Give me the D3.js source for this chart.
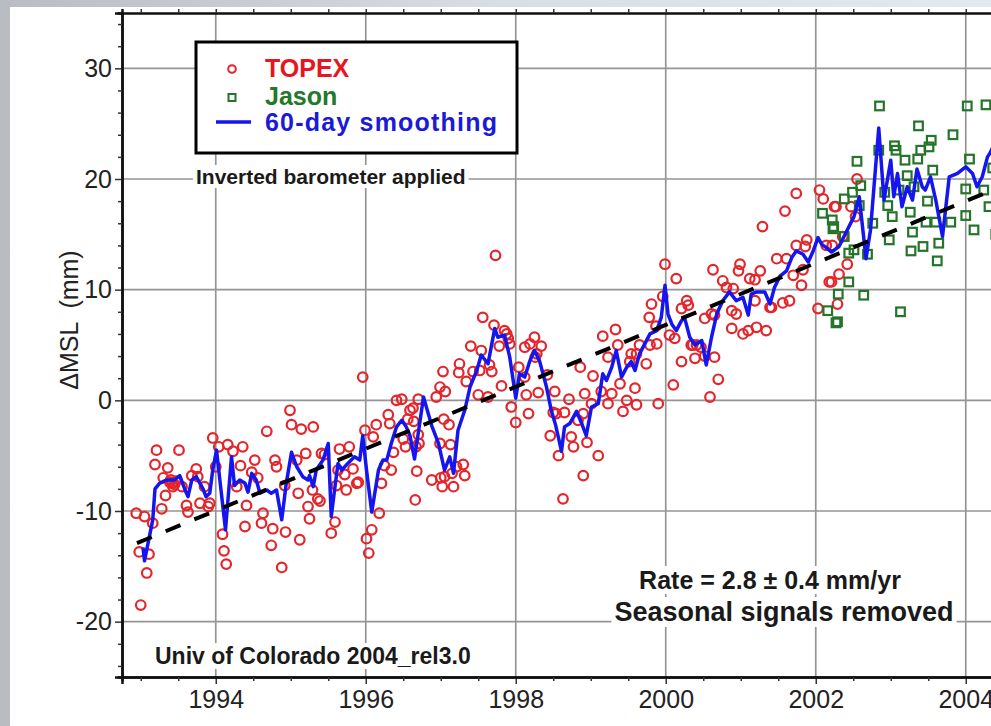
<!DOCTYPE html>
<html><head><meta charset="utf-8">
<script src="https://cdn.jsdelivr.net/npm/d3@7"></script>
<style>
html,body{margin:0;padding:0;overflow:hidden;background:#d4d7dc;}
svg{display:block;}
</style></head>
<body>
<svg id="chart" width="991" height="726"></svg>
<script>
// ---- data ----
const topexYears = [1992.94,1992.98,1993.00,1993.05,1993.08,1993.11,1993.16,1993.19,1993.21,1993.28,1993.30,1993.33,1993.36,1993.39,1993.40,1993.42,1993.43,1993.45,1993.47,1993.51,1993.55,1993.61,1993.63,1993.68,1993.74,1993.76,1993.79,1993.85,1993.90,1993.92,1993.96,1994.00,1994.04,1994.09,1994.11,1994.14,1994.16,1994.23,1994.28,1994.33,1994.36,1994.39,1994.41,1994.48,1994.52,1994.56,1994.61,1994.63,1994.68,1994.74,1994.76,1994.79,1994.81,1994.88,1994.92,1994.93,1994.99,1995.01,1995.08,1995.10,1995.12,1995.14,1995.20,1995.23,1995.25,1995.29,1995.30,1995.36,1995.39,1995.41,1995.45,1995.54,1995.59,1995.61,1995.63,1995.65,1995.72,1995.74,1995.78,1995.83,1995.88,1995.90,1995.96,1995.99,1996.01,1996.04,1996.08,1996.10,1996.14,1996.18,1996.21,1996.25,1996.30,1996.32,1996.34,1996.37,1996.41,1996.48,1996.50,1996.53,1996.56,1996.59,1996.63,1996.64,1996.66,1996.67,1996.68,1996.70,1996.70,1996.71,1996.88,1996.94,1996.99,1996.99,1997.00,1997.02,1997.03,1997.04,1997.05,1997.06,1997.11,1997.13,1997.15,1997.17,1997.21,1997.24,1997.25,1997.30,1997.32,1997.34,1997.40,1997.43,1997.50,1997.52,1997.54,1997.56,1997.63,1997.65,1997.68,1997.71,1997.73,1997.78,1997.81,1997.85,1997.88,1997.90,1997.92,1997.94,1998.00,1998.04,1998.12,1998.12,1998.14,1998.17,1998.19,1998.25,1998.26,1998.28,1998.30,1998.34,1998.42,1998.46,1998.50,1998.52,1998.54,1998.57,1998.63,1998.65,1998.71,1998.74,1998.77,1998.83,1998.86,1998.90,1998.90,1998.92,1998.95,1999.01,1999.03,1999.10,1999.14,1999.16,1999.23,1999.23,1999.28,1999.33,1999.36,1999.39,1999.43,1999.48,1999.52,1999.54,1999.59,1999.61,1999.61,1999.65,1999.74,1999.78,1999.79,1999.81,1999.87,1999.88,1999.90,1999.96,1999.99,2000.05,2000.10,2000.12,2000.14,2000.21,2000.21,2000.28,2000.30,2000.34,2000.36,2000.39,2000.41,2000.47,2000.52,2000.52,2000.59,2000.61,2000.63,2000.65,2000.65,2000.70,2000.76,2000.81,2000.88,2000.88,2000.90,2000.94,2000.97,2000.99,2001.03,2001.10,2001.12,2001.19,2001.19,2001.21,2001.26,2001.29,2001.34,2001.39,2001.41,2001.48,2001.56,2001.59,2001.61,2001.65,2001.70,2001.74,2001.74,2001.81,2001.83,2001.86,2001.88,2002.03,2002.05,2002.10,2002.14,2002.18,2002.21,2002.22,2002.25,2002.27,2002.29,2002.31,2002.36,2002.42,2002.47,2002.53,2002.55];
const topexValues = [-10.2,-13.7,-18.5,-10.5,-15.6,-13.9,-11.1,-5.8,-4.5,-9.8,-7.0,-8.6,-6.1,-7.4,-7.2,-7.5,-7.8,-7.6,-7.3,-4.5,-7.8,-9.5,-10.1,-6.8,-6.2,-6.9,-9.3,-7.8,-9.6,-9.3,-3.4,-6.0,-4.2,-12.1,-13.6,-14.8,-4.0,-4.6,-7.8,-5.9,-4.2,-11.4,-9.5,-6.5,-5.4,-7.0,-11.1,-10.2,-2.8,-13.1,-11.6,-5.4,-6.0,-15.1,-7.7,-11.9,-0.9,-2.2,-5.4,-8.4,-12.6,-2.6,-4.8,-9.6,-10.7,-8.1,-2.4,-8.9,-9.1,-4.8,-4.9,-12.0,-11.0,-7.7,-6.3,-4.4,-6.7,-8.1,-4.2,-6.2,-7.5,-7.4,2.1,-2.7,-12.5,-13.8,-11.7,-3.3,-2.2,-10.2,-7.5,-5.9,-1.3,-2.1,-6.3,-4.7,0.0,0.1,-3.5,-4.2,-1.7,-0.9,-0.7,-1.9,-9.0,-4.2,-6.4,-3.1,0.1,-3.9,-7.2,0.3,1.2,-3.9,-7.0,-7.8,2.6,-1.7,-6.9,0.8,-2.2,-4.0,-6.6,-7.8,-6.0,2.5,3.3,-5.8,-6.8,1.7,4.9,2.6,0.5,2.7,4.5,7.5,0.3,3.2,2.6,6.8,13.1,4.9,1.3,6.3,6.0,5.6,5.1,-0.6,-2.0,3.0,4.8,2.1,0.5,-1.2,5.1,5.7,3.9,4.2,0.7,4.9,2.3,-3.2,-1.1,0.8,-1.2,-5.0,-8.9,-1.1,0.1,-3.3,-4.2,-1.8,3.0,-6.8,-1.2,0.6,-3.8,-0.3,2.2,-5.0,0.8,5.8,3.9,-0.3,0.6,6.4,5.0,1.5,-1.0,0.0,3.5,4.2,1.1,4.2,-0.4,5.0,3.3,7.5,5.0,8.7,6.7,5.1,-0.3,9.4,12.3,5.9,1.4,5.6,11.0,8.3,3.5,9.0,8.6,5.0,5.0,3.8,5.0,4.8,7.4,4.0,0.3,7.8,11.8,7.7,3.9,1.9,10.8,10.2,8.1,6.5,10.1,7.8,11.7,12.3,6.0,6.3,11.0,10.9,9.0,6.6,11.7,15.7,6.3,8.4,8.4,12.8,8.8,17.1,12.8,9.0,11.3,18.7,14.0,10.4,11.8,13.9,14.5,8.3,19.0,18.2,14.0,10.7,10.7,14.0,17.5,17.5,8.7,11.4,14.8,12.3,17.5,16.6,20.0];

const jasonYears = [2002.09,2002.16,2002.22,2002.23,2002.24,2002.27,2002.29,2002.30,2002.38,2002.38,2002.44,2002.44,2002.49,2002.51,2002.55,2002.58,2002.60,2002.64,2002.69,2002.76,2002.84,2002.85,2002.92,2002.96,2002.98,2003.02,2003.05,2003.07,2003.11,2003.13,2003.19,2003.22,2003.26,2003.27,2003.29,2003.31,2003.36,2003.37,2003.40,2003.43,2003.47,2003.49,2003.51,2003.54,2003.56,2003.60,2003.62,2003.64,2003.80,2003.83,2004.00,2004.00,2004.02,2004.05,2004.11,2004.24,2004.27,2004.31,2004.36,2004.40];
const jasonValues = [16.9,8.1,16.3,15.5,15.7,7.0,7.1,9.6,14.8,18.2,13.3,10.7,18.8,13.6,21.6,17.6,19.4,9.5,13.2,16.0,22.6,26.6,18.8,17.6,14.5,16.6,23.0,22.6,19.0,8.0,21.7,20.3,17.0,13.5,15.2,19.3,21.8,24.8,22.6,13.9,16.1,18.0,22.9,23.5,20.8,16.1,12.6,14.2,16.1,24.0,19.1,16.7,26.6,21.8,15.4,19.0,26.7,17.5,21.0,15.0];

const smoothYears = [1993.03,1993.05,1993.16,1993.19,1993.25,1993.34,1993.45,1993.52,1993.59,1993.63,1993.68,1993.74,1993.83,1993.87,1993.92,1993.96,1994.01,1994.13,1994.21,1994.25,1994.32,1994.39,1994.43,1994.48,1994.54,1994.59,1994.68,1994.74,1994.81,1994.88,1994.94,1995.01,1995.08,1995.16,1995.23,1995.25,1995.30,1995.34,1995.43,1995.50,1995.54,1995.59,1995.63,1995.68,1995.76,1995.85,1995.92,1995.96,1996.01,1996.08,1996.17,1996.23,1996.28,1996.34,1996.41,1996.48,1996.54,1996.59,1996.65,1996.77,1996.88,1996.97,1997.05,1997.12,1997.17,1997.23,1997.32,1997.39,1997.48,1997.54,1997.63,1997.72,1997.76,1997.85,1997.92,1998.00,1998.05,1998.12,1998.19,1998.25,1998.32,1998.41,1998.47,1998.53,1998.61,1998.65,1998.72,1998.81,1998.88,1998.94,1999.01,1999.10,1999.16,1999.21,1999.28,1999.34,1999.41,1999.48,1999.54,1999.59,1999.65,1999.72,1999.79,1999.88,1999.94,1999.99,2000.03,2000.08,2000.14,2000.21,2000.25,2000.32,2000.39,2000.48,2000.54,2000.61,2000.68,2000.76,2000.85,2000.94,2001.03,2001.10,2001.14,2001.21,2001.32,2001.39,2001.45,2001.52,2001.61,2001.68,2001.74,2001.83,2001.90,2001.96,2002.03,2002.08,2002.14,2002.21,2002.31,2002.42,2002.51,2002.58,2002.67,2002.73,2002.84,2002.91,2003.00,2003.04,2003.09,2003.15,2003.22,2003.29,2003.35,2003.42,2003.46,2003.53,2003.60,2003.69,2003.78,2003.89,2004.00,2004.09,2004.15,2004.22,2004.29,2004.32,2004.37];
const smoothValues = [-13.3,-14.5,-10.8,-8.0,-7.5,-7.2,-7.2,-6.8,-8.1,-8.7,-7.2,-6.9,-8.0,-8.7,-8.4,-6.3,-4.5,-11.7,-5.1,-7.7,-7.2,-7.5,-8.3,-6.6,-7.2,-8.4,-8.1,-8.4,-8.1,-10.8,-7.5,-4.7,-6.0,-6.9,-7.2,-6.8,-7.8,-6.3,-5.4,-3.9,-10.5,-7.8,-5.7,-6.3,-5.7,-5.1,-5.4,-3.2,-6.3,-10.1,-6.3,-5.4,-5.4,-3.9,-2.4,-1.8,-2.4,-3.2,-5.3,0.3,-2.3,-3.9,-6.3,-5.1,-6.6,-2.7,-0.9,1.2,2.7,4.1,3.3,6.5,5.7,5.9,3.9,0.2,2.4,2.1,3.6,4.5,3.5,1.2,-0.8,-2.2,-4.6,-2.4,-2.1,-1.0,-2.1,-3.2,-0.6,-0.3,2.4,1.8,3.0,4.5,2.1,3.0,3.5,2.7,4.2,5.1,6.0,6.3,7.5,10.4,7.8,6.9,6.3,7.2,7.5,5.7,5.0,5.4,3.2,5.7,7.8,9.0,9.8,9.0,9.3,7.7,9.6,9.8,9.8,8.7,10.2,11.2,11.7,12.9,13.5,13.2,12.5,13.4,14.7,14.1,13.8,13.4,13.9,15.4,16.6,18.4,12.8,15.4,24.6,18.1,21.7,18.4,20.5,17.5,19.3,18.1,20.9,19.3,19.0,20.2,18.1,14.8,20.2,20.5,21.1,20.5,19.3,20.2,22.0,22.3,23.0];

const trendYears = [1992.95, 2004.75];
const trendValues = [-12.9, 20.1];

const xTickYears = [1994, 1996, 1998, 2000, 2002, 2004];
const yTickValues = [-20, -10, 0, 10, 20, 30];
const yTickLabels = ["-20", "-10", "0", "10", "20", "30"];

// ---- drawing ----
const svg = d3.select("#chart");
const W = 991, H = 726;
const plotLeft = 122, plotTop = 13, plotBottom = 677;

const x = d3.scaleLinear().domain([1992.75, 2004.75]).range([plotLeft, plotLeft + 12 * 75]);
const y = d3.scaleLinear().domain([-25, 35]).range([plotBottom, plotTop]);
const plotRight = x.range()[1];

// background (blurred photo look)
const defs = svg.append("defs");
const lg = defs.append("linearGradient").attr("id","bg").attr("x1","0").attr("y1","0").attr("x2","1").attr("y2","0");
lg.append("stop").attr("offset","0").attr("stop-color","#b9bcc0");
lg.append("stop").attr("offset","0.5").attr("stop-color","#d9dde4");
lg.append("stop").attr("offset","1").attr("stop-color","#e4e8ef");
svg.append("rect").attr("width",W).attr("height",H).attr("fill","url(#bg)");
svg.append("rect").attr("x",10).attr("y",7).attr("width",W + 20).attr("height",H).attr("fill","#ffffff");

const font = "'Liberation Sans', Arial, Helvetica, sans-serif";
const plot = svg.append("g");

// grid
plot.append("g").selectAll("line").data(xTickYears).join("line")
  .attr("x1", d => x(d)).attr("x2", d => x(d)).attr("y1", plotTop).attr("y2", plotBottom)
  .attr("stroke", "#959595").attr("stroke-width", 1.7);
plot.append("g").selectAll("line").data(yTickValues).join("line")
  .attr("x1", plotLeft).attr("x2", plotRight).attr("y1", d => y(d)).attr("y2", d => y(d))
  .attr("stroke", "#959595").attr("stroke-width", 1.7);

// axes with minor ticks
const xMinor = d3.range(1993, 2005.01, 0.5).filter(v => xTickYears.indexOf(v) < 0);
const yMinor = d3.range(-24, 35, 2).filter(v => v % 10 !== 0);

const bottomAxis = d3.axisBottom(x).tickValues(xTickYears).tickFormat(d3.format("d")).tickSize(7).tickPadding(6);
const gb = svg.append("g").attr("transform", `translate(0,${plotBottom})`).call(bottomAxis);
gb.selectAll("text").attr("font-family", font).attr("font-size", 25).attr("fill", "#222");
const gbm = svg.append("g").attr("transform", `translate(0,${plotBottom})`).call(d3.axisBottom(x).tickValues(xMinor).tickSize(4).tickFormat(""));
const gt = svg.append("g").attr("transform", `translate(0,${plotTop})`).call(d3.axisTop(x).tickValues(xTickYears.concat(xMinor)).tickSize(4).tickFormat(""));

const leftAxis = d3.axisLeft(y).tickValues(yTickValues).tickFormat((d,i) => yTickLabels[i]).tickSize(7).tickPadding(3);
const gl = svg.append("g").attr("transform", `translate(${plotLeft},0)`).call(leftAxis);
gl.selectAll("text").attr("font-family", font).attr("font-size", 25).attr("fill", "#222");
const glm = svg.append("g").attr("transform", `translate(${plotLeft},0)`).call(d3.axisLeft(y).tickValues(yMinor).tickSize(4).tickFormat(""));

[gb, gbm, gt, gl, glm].forEach(g => {
  g.select(".domain").attr("stroke", "#111").attr("stroke-width", 2.5);
  g.selectAll(".tick line").attr("stroke", "#333").attr("stroke-width", 1.5);
});

// y title
svg.append("text").attr("transform", "translate(78,320) rotate(-90)")
  .attr("text-anchor", "middle").attr("font-family", font).attr("font-size", 25).attr("fill", "#222")
  .attr("xml:space", "preserve").text("\u0394MSL  (mm)");

// TOPEX circles
plot.append("g").selectAll("circle").data(topexYears).join("circle")
  .attr("cx", d => x(d)).attr("cy", (d,i) => y(topexValues[i])).attr("r", 4.8)
  .attr("fill", "none").attr("stroke", "#e3262b").attr("stroke-width", 2.2);

// Jason squares
plot.append("g").selectAll("rect").data(jasonYears).join("rect")
  .attr("x", d => x(d) - 4.3).attr("y", (d,i) => y(jasonValues[i]) - 4.3).attr("width", 8.6).attr("height", 8.6)
  .attr("fill", "none").attr("stroke", "#24752a").attr("stroke-width", 2.2);

// smoothing line
const line = d3.line().x(d => x(d[0])).y(d => y(d[1]));
plot.append("path").datum(smoothYears.map((d,i) => [d, smoothValues[i]]))
  .attr("d", line).attr("fill", "none").attr("stroke", "#1515f0").attr("stroke-width", 3.5).attr("stroke-linejoin", "round");

// trend
plot.append("path").datum(trendYears.map((d,i) => [d, trendValues[i]]))
  .attr("d", line).attr("fill", "none").attr("stroke", "#000").attr("stroke-width", 4)
  .attr("stroke-dasharray", "16,15");

// labels with white backgrounds
function label(txt, xx, yy, size, anchor) {
  const t = svg.append("text").attr("x", xx).attr("y", yy).attr("text-anchor", anchor || "start")
    .attr("font-family", font).attr("font-weight", "bold").attr("font-size", size).attr("fill", "#1a1a1a").text(txt);
  const b = t.node().getBBox();
  svg.insert("rect", () => t.node()).attr("x", b.x - 3).attr("y", b.y).attr("width", b.width + 6).attr("height", b.height).attr("fill", "#fff");
  return t;
}
label("Inverted barometer applied", 196, 184, 21);
label("Univ of Colorado 2004_rel3.0", 155, 664, 23);
label("Rate = 2.8 \u00b1 0.4 mm/yr", 770, 589, 25, "middle");
label("Seasonal signals removed", 784, 621, 27, "middle");

// legend
const lgd = svg.append("g");
lgd.append("rect").attr("x", 196).attr("y", 42).attr("width", 321).attr("height", 111)
  .attr("fill", "#fff").attr("stroke", "#000").attr("stroke-width", 3);
lgd.append("circle").attr("cx", 232).attr("cy", 69).attr("r", 3.8).attr("fill", "none").attr("stroke", "#e3262b").attr("stroke-width", 2);
lgd.append("rect").attr("x", 228.5).attr("y", 94).attr("width", 7).attr("height", 7).attr("fill", "none").attr("stroke", "#24752a").attr("stroke-width", 2);
lgd.append("line").attr("x1", 216).attr("x2", 251).attr("y1", 122).attr("y2", 122).attr("stroke", "#1515f0").attr("stroke-width", 3.5);
const legendItems = [["TOPEX", "#e8141e", 77, 0], ["Jason", "#23782a", 105, 0], ["60-day smoothing", "#1a1ad8", 131, 1.2]];
lgd.selectAll("text.l").data(legendItems).join("text").attr("class","l")
  .attr("x", 265).attr("y", d => d[2]).attr("font-family", font).attr("font-weight", "bold").attr("font-size", 25)
  .attr("letter-spacing", d => d[3]).attr("fill", d => d[1]).text(d => d[0]);
</script>
</body></html>
